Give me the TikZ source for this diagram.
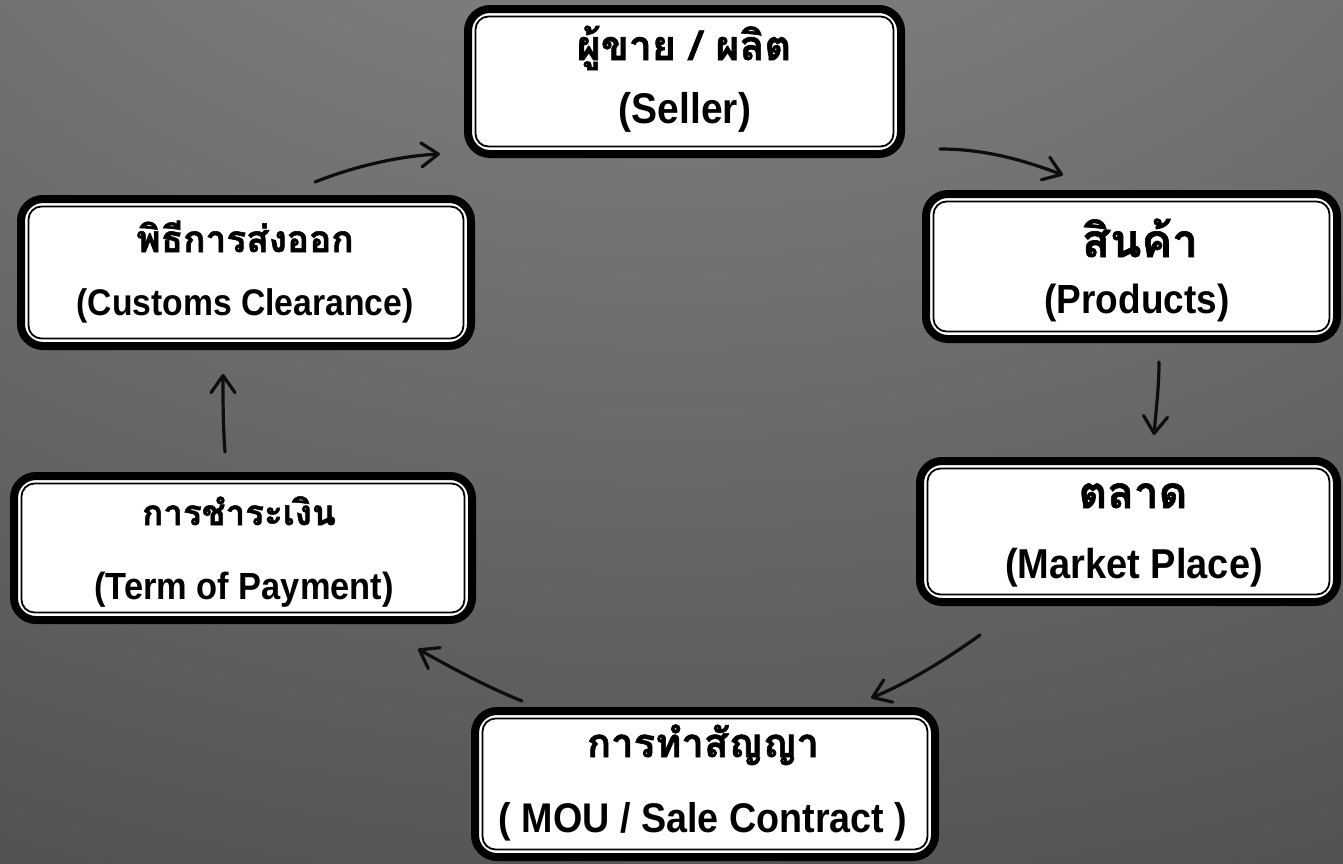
\documentclass[tikz,border=0pt]{standalone}
\usepackage{fontspec}
\setmainfont{Liberation Sans}
\newfontfamily\thaifont[Script=Thai, BoldFeatures={FakeBold=1.4}]{Loma}
\usetikzlibrary{arrows.meta,calc,shadows}
\definecolor{bgA}{gray}{0.56}
\definecolor{bgB}{gray}{0.44}
\definecolor{bgC}{gray}{0.315}
\definecolor{bgD}{gray}{0.235}
\definecolor{bgE}{gray}{0.17}
\pgfdeclareradialshading{bgshade}{\pgfpoint{0bp}{50bp}}{color(0bp)=(bgA); color(30bp)=(bgB); color(60bp)=(bgC); color(90bp)=(bgD); color(130bp)=(bgE)}
\tikzset{
  boxnode/.style={draw=black, line width=8pt, fill=white, rounded corners=22pt,
    inner sep=0pt, drop shadow={shadow xshift=2pt, shadow yshift=-3pt, opacity=0.45, fill=black}},
  innerline/.style={draw=black, line width=1.8pt, rounded corners=13pt},
  thtext/.style={font=\thaifont\bfseries\fontsize{#1}{40}\selectfont, anchor=base, inner sep=0pt},
  entext/.style={font=\bfseries\fontsize{#1}{40}\selectfont, anchor=center, inner sep=0pt, yscale=1.1, transform shape},
  arr/.style={draw=black!95, line width=3.2pt, line cap=round, line join=round,
    -{Straight Barb[length=17pt,width=24pt,line width=3.2pt,round]}}
}
\newcommand{\myinnerframe}[1]{\draw[innerline] ([shift={(11.5,11.5)}]#1.north west) rectangle ([shift={(-11.5,-11.5)}]#1.south east);}
\begin{document}
\begin{tikzpicture}[x=1pt,y=-1pt]
\useasboundingbox (0,0) rectangle (1343,863);
\shade[shading=bgshade] (0,0) rectangle (1343,863);

% boxes
\node[boxnode, minimum width=433pt, minimum height=145pt] (seller) at (684.5,81.5) {};
\node[boxnode, minimum width=411pt, minimum height=145pt] (products) at (1131.5,266.5) {};
\node[boxnode, minimum width=450pt, minimum height=147pt] (customs) at (246,272.5) {};
\node[boxnode, minimum width=417pt, minimum height=141pt] (market) at (1128.5,531.5) {};
\node[boxnode, minimum width=458pt, minimum height=144pt] (payment) at (243,548) {};
\node[boxnode, minimum width=460pt, minimum height=146pt] (mou) at (705,784) {};
\myinnerframe{seller}
\myinnerframe{products}
\myinnerframe{customs}
\myinnerframe{market}
\myinnerframe{payment}
\myinnerframe{mou}

% texts
\node[thtext=41] (seller-th) at (684,60) {ผู้ขาย / ผลิต};
\node[entext=39] (seller-en) at (685,112) {(Seller)};
\node[thtext=46] (products-th) at (1140,257) {สินค้า};
\node[entext=37] (products-en) at (1137,303) {(Products)};
\node[thtext=37] (customs-th) at (245,252) {พิธีการส่งออก};
\node[entext=33.7] (customs-en) at (245,306) {(Customs Clearance)};
\node[thtext=44] (market-th) at (1133,508) {ตลาด};
\node[entext=38] (market-en) at (1134,568) {(Market Place)};
\node[thtext=35] (payment-th) at (239,525) {การชำระเงิน};
\node[entext=34.4] (payment-en) at (244,590) {(Term of Payment)};
\node[thtext=40] (mou-th) at (703,757) {การทำสัญญา};
\node[entext=37.7] (mou-en) at (703,822) {( MOU / Sale Contract )};

% connectors
\draw[arr] ($(customs.north)+(69,-13)$) .. controls +(40,-16) and +(-40,2) .. ($(seller.south west)+(-24,-4)$);
\draw[arr] ($(seller.south east)+(35,-9)$) .. controls +(45,0) and +(-40,-15) .. ($(products.north west)+(141,-15)$);
\draw[arr] ($(products.south)+(27.5,19)$) .. controls +(0,25) and +(2,-25) .. ($(products.south)+(22.5,92)$);
\draw[arr] ($(market.south west)+(64,29)$) .. controls +(-32,23) and +(37,-15) .. ($(mou.north east)+(-68,-9)$);
\draw[arr] ($(mou.north west)+(51,-6)$) .. controls +(-35,-14) and +(32,18) .. ($(payment.south east)+(-58,25)$);
\draw[arr] ($(payment.north)+(-18,-20)$) .. controls +(-2,-25) and +(0,25) .. ($(customs.south)+(-23,24)$);
\end{tikzpicture}
\end{document}
